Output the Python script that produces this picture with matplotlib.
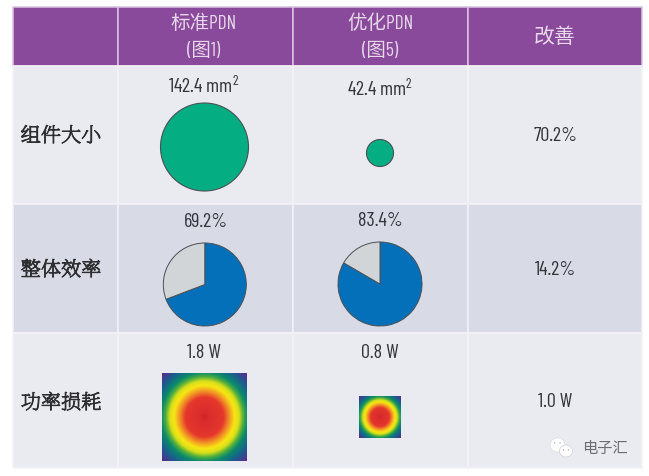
import numpy as np
import matplotlib
matplotlib.use("Agg")
import matplotlib.pyplot as plt
import matplotlib.patheffects as pe
from matplotlib.patches import Rectangle, Circle, Ellipse
from matplotlib.colors import LinearSegmentedColormap
from matplotlib import font_manager as fm

W, H = 649, 476
col_edges = [12.5, 117.5, 292.5, 467.5, 642]
row_edges = [7, 66, 204, 333, 468]
header_names = ["标准PDN", "优化PDN"]
header_subs = ["(图1)", "(图5)"]
improve_header = "改善"
row_labels = ["组件大小", "整体效率", "功率损耗"]
size_labels = ["142.4 mm$^{2}$", "42.4 mm$^{2}$"]
size_radii = [44, 13.5]
eff_labels = ["69.2%", "83.4%"]
eff_values = [69.2, 83.4]
loss_labels = ["1.8 W", "0.8 W"]
improve = ["70.2%", "14.2%", "1.0 W"]

heat_stops = [0.0, 0.1, 0.45, 0.6, 0.72, 0.82, 0.92, 1.02, 1.2, 1.41]
heat_cols = ["#cc2229", "#d92c2c", "#e5372c", "#f39a25", "#f8e614", "#d8e01a", "#4fae3f", "#0b8a6b", "#1b5d8e", "#5b2a8c"]

names = {f.name for f in fm.fontManager.ttflist}
def pick(cands):
    for c in cands:
        if c in names:
            return [c]
    return ["Roboto"]
narrow = pick(["Barlow Condensed", "Sofia Sans Condensed", "Saira ExtraCondensed", "Liberation Sans Narrow"])
serif_cjk = pick(["Noto Serif CJK SC", "Noto Serif SC", "Noto Sans CJK SC"])
num_font = narrow + ["DejaVu Sans"]
cjk = ["Noto Sans CJK SC", "DejaVu Sans"]
mixed = narrow + ["Noto Sans CJK SC", "DejaVu Sans"]
plt.rcParams["mathtext.fontset"] = "custom"
plt.rcParams["mathtext.rm"] = narrow[0]

purple = "#8a4a9b"
row_bg = ["#eaebf0", "#d8dbe5", "#eaebf0"]
line = "#f4f2f6"
ink = "#33353b"
green = "#04ae82"
blue = "#0570ba"
grey = "#d2d5d8"
edge = "#4a4f55"
num_size = 14.5

fig = plt.figure(figsize=(W / 100, H / 100), dpi=100, facecolor="white")
ax = fig.add_axes([0, 0, 1, 1])

for r in range(4):
    for c in range(4):
        fc = purple if r == 0 else row_bg[r - 1]
        ec = "#d9c4e0" if r == 0 else line
        ax.add_patch(Rectangle((col_edges[c], row_edges[r]),
                               col_edges[c + 1] - col_edges[c],
                               row_edges[r + 1] - row_edges[r],
                               fc=fc, ec=ec, lw=1.1, zorder=1))

head_col = "#e6d8ea"
for x, top, sub in zip([204, 380], header_names, header_subs):
    ax.text(x, 24, top, color=head_col, fontsize=14, family=mixed, ha="center", va="center")
    ax.text(x, 50.5, sub, color=head_col, fontsize=14, family=mixed, ha="center", va="center")
ax.text(555, 37, improve_header, color=head_col, fontsize=15, family=cjk, ha="center", va="center")

for y, lab in zip([136, 270, 403], row_labels):
    ax.text(61, y, lab, color="#2e2e30", fontsize=14.5, family=serif_cjk + ["DejaVu Sans"],
            ha="center", va="center",
            path_effects=[pe.withStroke(linewidth=0.6, foreground="#2e2e30")])

for x, y, lab in zip([204, 380], [86, 89], size_labels):
    ax.text(x, y, lab, color=ink, fontsize=num_size, family=num_font, ha="center", va="center")
for x, y, rad in zip([204.5, 380], [147, 153], size_radii):
    ax.add_patch(Circle((x, y), rad, fc=green, ec=edge, lw=0.8, zorder=3))

for x, y, lab in zip([205.5, 380], [222, 221.5], eff_labels):
    ax.text(x, y, lab, color=ink, fontsize=num_size, family=num_font, ha="center", va="center")
for x, y, rad, v in zip([204.8, 380], [284.5, 284], [41.5, 42], eff_values):
    wedges, _ = ax.pie([v, 100 - v], colors=[blue, grey], startangle=90, counterclock=False,
                       center=(x, -y), radius=rad, frame=False,
                       wedgeprops=dict(edgecolor=edge, linewidth=0.7))
    for w in wedges:
        w.set_center((x, y))
        w.set_zorder(3)
        w.theta1, w.theta2 = -w.theta2, -w.theta1

for x, y, lab in zip([204, 380], [353, 353.5], loss_labels):
    ax.text(x, y, lab, color=ink, fontsize=num_size, family=num_font, ha="center", va="center")

cmap = LinearSegmentedColormap.from_list("heat", list(zip(np.array(heat_stops) / heat_stops[-1], heat_cols)))
g = np.linspace(-1, 1, 200)
xx, yy = np.meshgrid(g, g)
dist = np.hypot(xx, yy)
for (x0, x1, y0, y1) in [(162, 247, 373, 461), (359, 401, 396, 438)]:
    ax.imshow(dist, cmap=cmap, vmin=0, vmax=heat_stops[-1], extent=(x0, x1, y1, y0),
              zorder=3, interpolation="bilinear", aspect="auto")

for y, lab in zip([136, 270, 402], improve):
    ax.text(555, y, lab, color=ink, fontsize=num_size, family=num_font, ha="center", va="center")

ax.add_patch(Ellipse((557.5, 445), 15, 14, fc="white", ec="#d5d6da", lw=0.4, zorder=4))
ax.add_patch(Ellipse((566, 451), 13, 12, fc="white", ec="#c4c5ca", lw=0.4, zorder=5))
for ex, ey in [(554.5, 443), (560, 443), (563.5, 450), (568.5, 450)]:
    ax.add_patch(Circle((ex, ey), 0.7, fc="#a8a9ae", ec="none", zorder=6))
ax.text(605, 448, "电子汇", color="#6b6d72", fontsize=11, family=cjk, ha="center", va="center", zorder=5)

ax.set_xlim(0, W)
ax.set_ylim(H, 0)
ax.set_aspect("auto")
ax.axis("off")
fig.savefig("out.png", dpi=100, facecolor="white")
